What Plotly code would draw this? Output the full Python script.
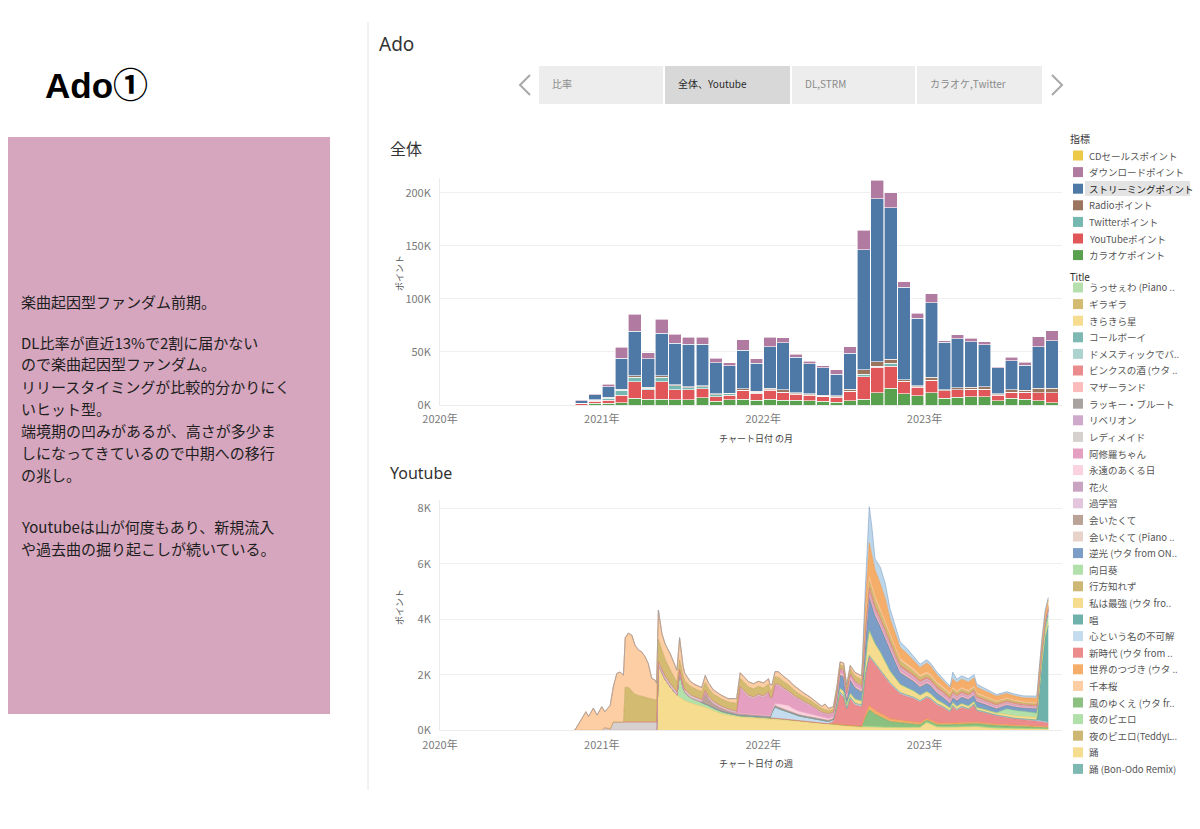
import plotly.graph_objects as go

W, H = 1200, 829


def px(x):
    return x / W


def py(y):
    return 1 - y / H


# ---------------- 全体 : monthly points by metric ----------------
months = [
    "2020-11-01", "2020-12-01",
    "2021-01-01", "2021-02-01", "2021-03-01", "2021-04-01", "2021-05-01", "2021-06-01",
    "2021-07-01", "2021-08-01", "2021-09-01", "2021-10-01", "2021-11-01", "2021-12-01",
    "2022-01-01", "2022-02-01", "2022-03-01", "2022-04-01", "2022-05-01", "2022-06-01",
    "2022-07-01", "2022-08-01", "2022-09-01", "2022-10-01", "2022-11-01", "2022-12-01",
    "2023-01-01", "2023-02-01", "2023-03-01", "2023-04-01", "2023-05-01", "2023-06-01",
    "2023-07-01", "2023-08-01", "2023-09-01", "2023-10-01",
]
karaoke_pt = [0, 1500, 1600, 2200, 6300, 5500, 5400, 5000, 5100, 6600, 3500, 4800,
              5300, 4700, 5300, 4700, 4600, 4000, 3700, 2800, 3900, 5400, 11600, 15700,
              10500, 8600, 11600, 6400, 7400, 7900, 7800, 3800, 6300, 5300, 4000, 2000]
youtube_pt = [1000, 2200, 3100, 7200, 15700, 8800, 16600, 9400, 9400, 8500, 4500, 4400,
              8200, 6300, 8500, 6900, 5600, 5300, 4400, 4700, 8500, 21300, 23800, 21000,
              11600, 8200, 11300, 6900, 6900, 6900, 6900, 5600, 5300, 6300, 7500, 9400]
twitter_pt = [500, 900, 1600, 4300, 4100, 1500, 4000, 3500, 1700, 1900, 1500, 1200,
              600, 800, 600, 400, 300, 300, 300, 200, 400, 2500, 1300, 2500,
              400, 300, 200, 200, 200, 200, 200, 200, 200, 200, 200, 300]
radio_pt = [200, 300, 800, 1000, 1600, 1000, 1500, 1200, 1000, 1200, 1000, 800,
            1200, 1000, 1600, 2500, 1200, 1000, 1000, 800, 1900, 3800, 4100, 3800,
            1200, 1000, 3100, 800, 1900, 1900, 2500, 1200, 2500, 1900, 4100, 4100]
streaming_pt = [2500, 4700, 10300, 29200, 42000, 27000, 40000, 39000, 40000, 39000, 29500, 25700,
                36500, 26600, 39000, 44300, 33200, 28200, 25700, 20700, 34000, 113000, 153600, 143000,
                87000, 63600, 70200, 44800, 45800, 42900, 39200, 24500, 27600, 23800, 39200, 44600]
download_pt = [700, 900, 2200, 10700, 16000, 5600, 13500, 8500, 6600, 6600, 4000, 3100,
               9500, 4000, 8800, 4700, 3100, 2200, 1900, 3800, 6300, 18800, 17400, 13800,
               5300, 4700, 8200, 1600, 3800, 3100, 2800, 900, 3100, 2800, 9400, 9400]

metric_names = ["CDセールスポイント", "ダウンロードポイント", "ストリーミングポイント", "Radioポイント",
                "Twitterポイント", "YouTubeポイント", "カラオケポイント"]

bar_ticks = [0, 50000, 100000, 150000, 200000]
bar_tick_text = ["0K", "50K", "100K", "150K", "200K"]
yt_ticks = [0, 2000, 4000, 6000, 8000]
yt_tick_text = ["0K", "2K", "4K", "6K", "8K"]
year_ticks = ["2020-01-01", "2021-01-01", "2022-01-01", "2023-01-01"]
year_text = ["2020年", "2021年", "2022年", "2023年"]

# ---------------- Youtube : weekly points by song (date, points) ----------------
odori = [("2021-05-05", 0), ("2021-05-09", 2350), ("2021-05-17", 2050), ("2021-05-24", 1850),
         ("2021-06-05", 1570), ("2021-06-12", 1420), ("2021-06-20", 1270), ("2021-07-04", 1090),
         ("2021-07-27", 950), ("2021-08-19", 850), ("2021-09-28", 600), ("2021-11-02", 480),
         ("2022-01-17", 420), ("2022-04-02", 300), ("2022-06-17", 180), ("2022-08-12", 120),
         ("2022-10-15", 90), ("2022-12-22", 100), ("2023-01-06", 280), ("2023-01-29", 120),
         ("2023-02-28", 100), ("2023-04-23", 150), ("2023-05-29", 80), ("2023-10-08", 50)]
yoru = [("2021-06-20", 0), ("2021-06-26", 900), ("2021-07-01", 550), ("2021-07-08", 300),
        ("2021-07-20", 200), ("2021-08-15", 150), ("2021-09-10", 100), ("2021-11-02", 60),
        ("2022-03-22", 30), ("2023-10-08", 10)]
kaze = [("2022-08-12", 0), ("2022-08-20", 300), ("2022-08-29", 600), ("2022-09-11", 450),
        ("2022-10-15", 200), ("2022-11-22", 120), ("2023-01-06", 60), ("2023-05-14", 90),
        ("2023-10-08", 30)]
sekai = [("2022-08-12", 0), ("2022-08-25", 150), ("2022-08-29", 150), ("2022-10-15", 100),
         ("2023-01-06", 60), ("2023-10-08", 40)]
shinjidai = [("2022-05-29", 0), ("2022-06-09", 100), ("2022-06-17", 600), ("2022-06-24", 1100),
             ("2022-07-02", 1000), ("2022-07-09", 550), ("2022-07-17", 950), ("2022-07-28", 750),
             ("2022-08-12", 700), ("2022-08-20", 1400), ("2022-08-29", 1750), ("2022-09-11", 1650),
             ("2022-09-23", 1550), ("2022-10-15", 1250), ("2022-11-07", 950), ("2022-12-07", 850),
             ("2022-12-22", 750), ("2023-01-14", 750), ("2023-02-13", 550), ("2023-02-28", 400),
             ("2023-03-06", 600), ("2023-03-15", 450), ("2023-03-26", 550), ("2023-04-10", 450),
             ("2023-04-23", 600), ("2023-04-29", 400), ("2023-05-29", 350), ("2023-06-13", 300),
             ("2023-07-25", 220), ("2023-09-12", 200), ("2023-10-08", 130)]
kokoro = [("2022-01-17", 0), ("2022-01-21", 200), ("2022-01-28", 400), ("2022-02-05", 350),
          ("2022-03-11", 200), ("2022-04-17", 130), ("2022-06-09", 70), ("2022-08-29", 60),
          ("2023-10-08", 20)]
sho = [("2023-09-12", 0), ("2023-09-23", 1950), ("2023-10-01", 3050), ("2023-10-08", 3500)]
saikyo = [("2022-06-09", 0), ("2022-06-24", 150), ("2022-08-12", 150), ("2022-08-20", 500),
          ("2022-08-29", 900), ("2022-09-11", 700), ("2022-10-15", 420), ("2022-11-07", 300),
          ("2022-12-22", 200), ("2023-02-13", 120), ("2023-06-13", 80), ("2023-10-08", 100)]
himawari = [("2023-06-13", 0), ("2023-07-06", 200), ("2023-08-13", 180), ("2023-09-12", 150),
            ("2023-10-08", 250)]
gyakko = [("2022-06-09", 0), ("2022-06-17", 150), ("2022-06-24", 450), ("2022-07-02", 500),
          ("2022-07-09", 150), ("2022-07-17", 450), ("2022-08-12", 300), ("2022-08-20", 800),
          ("2022-08-29", 1200), ("2022-09-11", 1000), ("2022-10-15", 720), ("2022-11-07", 400),
          ("2022-12-22", 280), ("2023-01-14", 280), ("2023-02-28", 150), ("2023-03-26", 220),
          ("2023-04-23", 220), ("2023-05-29", 150), ("2023-08-13", 120), ("2023-10-08", 200)]
aitakute = [("2021-08-15", 0), ("2021-08-23", 400), ("2021-08-30", 250), ("2021-09-10", 150),
            ("2021-10-14", 80), ("2022-03-22", 40), ("2023-10-08", 10)]
towa = [("2022-01-21", 0), ("2022-02-05", 120), ("2022-02-27", 200), ("2022-03-22", 120),
        ("2022-04-17", 100), ("2022-06-09", 50), ("2023-10-08", 10)]
ashura = [("2021-11-02", 0), ("2021-11-10", 900), ("2021-11-17", 800), ("2021-11-29", 620),
          ("2021-12-10", 570), ("2021-12-21", 680), ("2022-01-02", 640), ("2022-01-13", 800),
          ("2022-01-21", 400), ("2022-01-28", 650), ("2022-02-05", 650), ("2022-02-16", 550),
          ("2022-02-27", 480), ("2022-03-22", 400), ("2022-04-17", 300), ("2022-05-14", 130),
          ("2022-06-09", 130), ("2022-08-29", 120), ("2022-12-22", 80), ("2023-10-08", 30)]
readymade = [("2021-01-01", 0), ("2021-01-08", 100), ("2021-01-20", 50), ("2021-01-27", 300),
             ("2021-05-05", 300), ("2021-05-09", 120), ("2021-07-08", 100), ("2021-10-14", 70),
             ("2022-06-09", 50), ("2023-10-08", 20)]
binks = [("2022-08-12", 0), ("2022-08-29", 120), ("2022-10-15", 80), ("2023-10-08", 30)]
giragira = [("2021-02-19", 0), ("2021-02-23", 1250), ("2021-03-02", 1250), ("2021-03-17", 1000),
            ("2021-04-09", 880), ("2021-05-02", 800), ("2021-05-09", 800), ("2021-05-24", 600),
            ("2021-06-20", 350), ("2021-07-20", 300), ("2021-08-23", 280), ("2021-10-14", 250),
            ("2021-11-10", 300), ("2022-01-13", 280), ("2022-03-22", 180), ("2022-06-09", 100),
            ("2022-08-29", 250), ("2022-12-22", 120), ("2023-10-08", 50)]
usseewa = [("2020-11-01", 0), ("2020-11-12", 300), ("2020-11-26", 670), ("2020-12-02", 500),
           ("2020-12-13", 800), ("2020-12-21", 550), ("2021-01-01", 850), ("2021-01-08", 570),
           ("2021-01-20", 850), ("2021-01-27", 1270), ("2021-02-04", 1750), ("2021-02-11", 1800),
           ("2021-02-19", 1690), ("2021-03-02", 1950), ("2021-03-10", 2010), ("2021-03-17", 1770),
           ("2021-03-25", 1640), ("2021-04-01", 1610), ("2021-04-09", 1470), ("2021-04-16", 1255),
           ("2021-04-24", 745), ("2021-05-02", 700), ("2021-05-05", 600), ("2021-05-09", 1060),
           ("2021-05-17", 630), ("2021-05-24", 560), ("2021-06-05", 585), ("2021-06-12", 520),
           ("2021-06-20", 440), ("2021-06-26", 800), ("2021-07-01", 415), ("2021-07-08", 260),
           ("2021-07-20", 180), ("2021-07-31", 150), ("2021-08-15", 150), ("2021-08-23", 250),
           ("2021-09-10", 150), ("2021-10-14", 120), ("2021-11-10", 200), ("2021-12-21", 180),
           ("2022-02-05", 200), ("2022-03-22", 150), ("2022-05-14", 80), ("2022-05-21", 200),
           ("2022-05-29", 80), ("2022-06-09", 100), ("2022-08-29", 150), ("2022-10-15", 80),
           ("2023-10-08", 30)]
utakata = [("2022-08-12", 0), ("2022-08-20", 600), ("2022-08-25", 1000), ("2022-08-29", 1200),
           ("2022-09-04", 1100), ("2022-09-11", 950), ("2022-09-23", 900), ("2022-10-04", 850),
           ("2022-10-15", 600), ("2022-10-27", 500), ("2022-11-07", 400), ("2022-11-22", 380),
           ("2022-12-07", 320), ("2022-12-22", 280), ("2023-01-06", 330), ("2023-02-13", 220),
           ("2023-02-28", 180), ("2023-03-06", 300), ("2023-03-26", 300), ("2023-04-23", 300),
           ("2023-04-29", 200), ("2023-05-29", 180), ("2023-08-13", 140), ("2023-10-08", 200)]
totmusica = [("2022-08-12", 0), ("2022-08-20", 500), ("2022-08-25", 1000), ("2022-08-29", 1300),
             ("2022-09-04", 1000), ("2022-09-11", 400), ("2022-09-23", 600), ("2022-10-04", 550),
             ("2022-10-15", 350), ("2022-10-27", 300), ("2022-11-07", 200), ("2022-11-22", 180),
             ("2022-12-22", 120), ("2023-02-28", 80), ("2023-03-06", 250), ("2023-03-15", 120),
             ("2023-04-23", 120), ("2023-06-13", 60), ("2023-10-08", 80)]

# legend list (Title) as shown, scrolled
title_labels = ["うっせぇわ (Piano ..", "ギラギラ", "きらきら星", "コールボーイ", "ドメスティックでバ..",
                "ビンクスの酒 (ウタ ..", "マザーランド", "ラッキー・ブルート", "リベリオン", "レディメイド",
                "阿修羅ちゃん", "永遠のあくる日", "花火", "過学習", "会いたくて", "会いたくて (Piano ..",
                "逆光 (ウタ from ON..", "向日葵", "行方知れず", "私は最強 (ウタ fro..", "唱",
                "心という名の不可解", "新時代 (ウタ from ..", "世界のつづき (ウタ ..", "千本桜",
                "風のゆくえ (ウタ fr..", "夜のピエロ", "夜のピエロ(TeddyL..", "踊", "踊 (Bon-Odo Remix)"]
title_colors = ["#b5e0ae", "#d3bc72", "#f6dc8f", "#7db8b3", "#acd3ce", "#ea8c8d", "#fdbcbc",
                "#a8a3a1", "#cfa9cb", "#d6d1cf", "#e5a0c1", "#fbd3e0", "#c9a3c2", "#e3c5dd",
                "#bba297", "#e7d3ca", "#7c9dc5", "#b2e0ab", "#cdb774", "#f6dc8f", "#6fb1ab",
                "#c4dcee", "#ec8b8b", "#f5ad6a", "#fdcda4", "#8cc080", "#b2e0ab", "#cdb774",
                "#f6dc8f", "#7db8b3"]

metric_colors = ["#edc948", "#b07aa1", "#4e79a7", "#9c755f", "#76b7b2", "#e15759", "#59a14f"]

fig = go.Figure()

# stacked bars, bottom first
bar_series = [
    ("カラオケポイント", karaoke_pt, "#59a14f"),
    ("YouTubeポイント", youtube_pt, "#e15759"),
    ("Twitterポイント", twitter_pt, "#76b7b2"),
    ("Radioポイント", radio_pt, "#9c755f"),
    ("ストリーミングポイント", streaming_pt, "#4e79a7"),
    ("ダウンロードポイント", download_pt, "#b07aa1"),
]
for name, vals, color in bar_series:
    fig.add_trace(go.Bar(
        x=months, y=vals, name=name,
        xperiod="M1", xperiodalignment="middle",
        width=28.5 * 86400000,
        marker=dict(color=color, line=dict(color="white", width=0.6)),
        xaxis="x", yaxis="y", showlegend=False,
    ))

# stacked areas, bottom first (fill, edge)
yt_stack = [
    ("踊", odori, "#f6dc8f", "#e8c863"),
    ("夜のピエロ", yoru, "#b2e0ab", "#8cd17d"),
    ("風のゆくえ", kaze, "#8cc080", "#6aa95e"),
    ("世界のつづき", sekai, "#f5ad6a", "#f0953d"),
    ("新時代", shinjidai, "#ec8b8b", "#e06e6e"),
    ("心という名の不可解", kokoro, "#c4dcee", "#a0c4e0"),
    ("唱", sho, "#6fb1ab", "#4f9a94"),
    ("私は最強", saikyo, "#f6dc8f", "#e8c863"),
    ("向日葵", himawari, "#b2e0ab", "#8cd17d"),
    ("逆光", gyakko, "#7c9dc5", "#5f84b2"),
    ("会いたくて", aitakute, "#bba297", "#9d7f70"),
    ("永遠のあくる日", towa, "#fbd3e0", "#f3b6c9"),
    ("阿修羅ちゃん", ashura, "#e5a0c1", "#d682a8"),
    ("レディメイド", readymade, "#d6d1cf", "#bdb5b1"),
    ("ビンクスの酒", binks, "#ea8c8d", "#de6f70"),
    ("ギラギラ", giragira, "#d3bc72", "#bda350"),
    ("うっせぇわ", usseewa, "#fdcda4", "#f6b887"),
    ("ウタカタララバイ", utakata, "#f5ad6a", "#ec9547"),
    ("Tot Musica", totmusica, "#bdd7ea", "#7f9fc4"),
]
for name, pts, fill, edge in yt_stack:
    fig.add_trace(go.Scatter(
        x=[d for d, v in pts], y=[v for d, v in pts], name=name, mode="lines",
        stackgroup="yt", stackgaps="interpolate",
        line=dict(color=edge, width=0.6), fillcolor=fill,
        xaxis="x2", yaxis="y2", showlegend=False,
    ))

tick_font = dict(family="Noto Sans CJK JP", size=11, color="#7a7a7a")
xcommon = dict(domain=[px(440), px(1062)], range=["2020-01-01", "2023-11-08"], type="date",
               tickvals=year_ticks, ticktext=year_text, tickfont=tick_font, showgrid=False,
               showline=True, linecolor="#ececec", ticks="outside", ticklen=4,
               tickcolor="rgba(0,0,0,0)", automargin=False, zeroline=False)
ycommon = dict(tickfont=tick_font, showgrid=True, gridcolor="#efefef", showline=True,
               linecolor="#ececec", zeroline=False, ticks="outside", ticklen=6,
               tickcolor="rgba(0,0,0,0)", automargin=False)

fig.update_layout(
    width=W, height=H, margin=dict(l=0, r=0, t=0, b=0),
    paper_bgcolor="white", plot_bgcolor="white",
    font=dict(family="Noto Sans CJK JP", color="#333"),
    barmode="stack", showlegend=False,
    xaxis=dict(anchor="y", **xcommon),
    yaxis=dict(anchor="x", domain=[py(405), py(178)], range=[0, 213800],
               tickvals=bar_ticks, ticktext=bar_tick_text, **ycommon),
    xaxis2=dict(anchor="y2", matches="x", **xcommon),
    yaxis2=dict(anchor="x2", domain=[py(730.3), py(500)], range=[0, 8300],
                tickvals=yt_ticks, ticktext=yt_tick_text, **ycommon),
)

shapes = []
annotations = []


def text(x, y, s, size, color="#333", anchor="left", family="Noto Sans CJK JP", angle=0):
    annotations.append(dict(xref="paper", yref="paper", x=px(x), y=py(y), text=s,
                            showarrow=False, xanchor=anchor, yanchor="middle", textangle=angle,
                            align="left", font=dict(size=size, color=color, family=family)))


def rect(x0, y0, x1, y1, fill):
    shapes.append(dict(type="rect", xref="paper", yref="paper", x0=px(x0), x1=px(x1),
                       y0=py(y1), y1=py(y0), fillcolor=fill, line=dict(width=0), layer="below"))


# left panel
text(96, 86, "<b>Ado①</b>", 35, "#000", "center", "Liberation Sans, Noto Sans CJK JP")
rect(8, 137, 330, 714, "#d5a6bd")
body_lines = [
    (301, "楽曲起因型ファンダム前期。"),
    (342, "DL比率が直近13%で2割に届かない"),
    (364, "ので楽曲起因型ファンダム。"),
    (386, "リリースタイミングが比較的分かりにく"),
    (408, "いヒット型。"),
    (430, "端境期の凹みがあるが、高さが多少ま"),
    (452, "しになってきているので中期への移行"),
    (474, "の兆し。"),
    (526, "Youtubeは山が何度もあり、新規流入"),
    (548, "や過去曲の掘り起こしが続いている。"),
]
for y, line in body_lines:
    text(19, y, line, 15, "#1e1e1e")

# divider
shapes.append(dict(type="line", xref="paper", yref="paper", x0=px(368), x1=px(368),
                   y0=py(22), y1=py(790), line=dict(color="#e4e4e4", width=1)))

# dashboard header and tabs
text(377, 44, "Ado", 19, "#333", family="Noto Sans")
tabs = [(539, 663, "比率", False), (665, 790, "全体、Youtube", True),
        (792, 915, "DL,STRM", False), (917, 1042, "カラオケ,Twitter", False)]
for x0, x1, label, active in tabs:
    rect(x0, 66, x1, 104, "#d8d8d8" if active else "#ededed")
    text(x0 + 11, 84, label, 10, "#2a2a2a" if active else "#8a8a8a")
for path in ["M {a},{b} L {c},{d} L {a},{e}".format(a=px(530), b=py(75), c=px(520), d=py(85), e=py(95)),
             "M {a},{b} L {c},{d} L {a},{e}".format(a=px(1052), b=py(75), c=px(1062), d=py(85), e=py(95))]:
    shapes.append(dict(type="path", xref="paper", yref="paper", path=path,
                       line=dict(color="#a8a8a8", width=2)))

# chart titles and axis titles
text(388, 148, "全体", 16, "#333")
text(388, 473, "Youtube", 16, "#333", family="Noto Sans")
text(399, 273, "ポイント", 9, "#555", "center", angle=-90)
text(399, 607, "ポイント", 9, "#555", "center", angle=-90)
text(756, 438, "チャート日付 の月", 9, "#444", "center")
text(756, 763, "チャート日付 の週", 9, "#444", "center")

# legend: 指標
text(1068, 139, "指標", 10, "#333")
rect(1085, 181, 1190, 196, "#e3e3e3")
for i, (label, color) in enumerate(zip(metric_names, metric_colors)):
    y = 155.5 + 16.6 * i
    rect(1073, y - 5, 1083, y + 5, color)
    text(1087, y, label, 9.5, "#222" if i == 2 else "#555")

# legend: Title
text(1068, 277, "Title", 10, "#333", family="Noto Sans")
for i, (label, color) in enumerate(zip(title_labels, title_colors)):
    y = 287.5 + 16.6 * i
    rect(1073, y - 5, 1083, y + 5, color)
    text(1087, y, label, 9.5, "#555")

fig.update_layout(shapes=shapes, annotations=annotations)

fig.write_html("out.html", config={"displayModeBar": False},
               post_script="document.body.style.margin='0';")
